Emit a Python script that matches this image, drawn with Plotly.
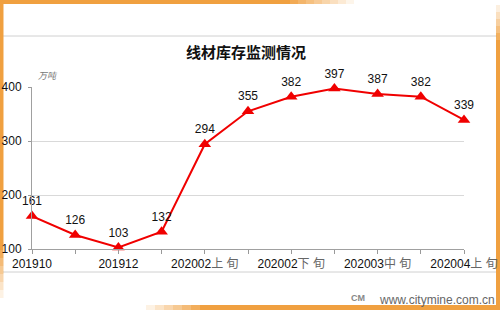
import plotly.graph_objects as go

categories = ["201910", "201911", "201912", "202001", "202002上旬", "202002中旬",
              "202002下旬", "202003上旬", "202003中旬", "202003下旬", "202004上旬"]
values = [161, 126, 103, 132, 294, 355, 382, 397, 387, 382, 339]
tick_text = ["201910", "", "201912", "",
             "202002<span style='color:#666'>上 旬</span>", "",
             "202002<span style='color:#666'>下 旬</span>", "",
             "202003<span style='color:#666'>中 旬</span>", "",
             "202004<span style='color:#666'>上 旬</span>"]
y_ticks = [100, 200, 300, 400]

fig = go.Figure()
fig.add_trace(go.Scatter(
    x=categories, y=values, mode="lines+markers+text",
    line=dict(color="#F00000", width=2),
    marker=dict(symbol="triangle-up", size=11, color="#F00000"),
    text=[str(v) for v in values], textposition="top center",
    textfont=dict(family="Arial, Liberation Sans", size=12, color="#111"),
    cliponaxis=False, hoverinfo="skip",
))

orange = "#F0A040"
W, H = 500, 310
L, R, T, B = 32, 464, 87, 249
def px(x):
    return (x - L) / (R - L)
def py(y):
    return (B - y) / (B - T)

shapes = []
def add(**kw):
    kw.setdefault("layer", "below")
    kw.setdefault("xref", "paper")
    kw.setdefault("yref", "paper")
    shapes.append(kw)

add(type="line", x0=px(3), x1=px(497), y0=py(36), y1=py(36), line=dict(color="#D0D0D0", width=1))
add(type="line", x0=px(3), x1=px(497), y0=py(272), y1=py(272), line=dict(color="#D0D0D0", width=1))
# left border
add(type="rect", x0=px(0), x1=px(3.5), y0=py(0), y1=py(250), fillcolor=orange, line=dict(width=0))
for i in range(6):
    add(type="rect", x0=px(0), x1=px(3.5), y0=py(250 + i*8), y1=py(258 + i*8),
        fillcolor=orange, opacity=1 - (i+1)/7, line=dict(width=0))
# top border
add(type="rect", x0=px(0), x1=px(290), y0=py(0), y1=py(4), fillcolor=orange, line=dict(width=0))
for i in range(8):
    add(type="rect", x0=px(290 + i*8), x1=px(298 + i*8), y0=py(0), y1=py(4),
        fillcolor=orange, opacity=1 - (i+1)/9, line=dict(width=0))
# right border
add(type="rect", x0=px(496), x1=px(500), y0=py(40), y1=py(310), fillcolor=orange, line=dict(width=0))
for i in range(5):
    add(type="rect", x0=px(496), x1=px(500), y0=py(40 - (i+1)*7), y1=py(40 - i*7),
        fillcolor=orange, opacity=1 - (i+1)/6, line=dict(width=0))
# bottom border
add(type="rect", x0=px(200), x1=px(500), y0=py(305), y1=py(310), fillcolor=orange, line=dict(width=0))
for i in range(6):
    add(type="rect", x0=px(200 - (i+1)*9), x1=px(200 - i*9), y0=py(305), y1=py(310),
        fillcolor=orange, opacity=1 - (i+1)/7, line=dict(width=0))

annotations = [
    dict(text="<b>线材库存监测情况</b>", xref="paper", yref="paper", x=px(246), y=py(52),
         showarrow=False, xanchor="center", yanchor="middle",
         font=dict(family="Noto Sans CJK SC", size=15, color="#111")),
    dict(text="<i>万吨</i>", xref="paper", yref="paper", x=px(36), y=py(76),
         showarrow=False, xanchor="left", yanchor="middle",
         font=dict(family="Noto Sans CJK SC", size=9, color="#777")),
    dict(text="www.citymine.com.cn", xref="paper", yref="paper", x=px(497), y=py(300),
         showarrow=False, xanchor="right", yanchor="middle",
         font=dict(family="Arial, Liberation Sans", size=12, color="#666")),
    dict(text="<b>CM</b>", xref="paper", yref="paper", x=px(358), y=py(298),
         showarrow=False, xanchor="center", yanchor="middle",
         font=dict(family="Arial, Liberation Sans", size=9, color="#888")),
]

fig.update_layout(
    width=W, height=H, margin=dict(l=L, r=W - R, t=T, b=H - B, autoexpand=False),
    paper_bgcolor="white", plot_bgcolor="white", showlegend=False,
    shapes=shapes, annotations=annotations,
    font=dict(family="Arial, Liberation Sans", size=12, color="#111"),
)
fig.update_xaxes(type="category", range=[0, 10], tickmode="array",
                 tickvals=categories, ticktext=tick_text, automargin=False,
                 ticks="outside", ticklen=4, tickcolor="#999",
                 showline=True, linecolor="#A0A0A0", linewidth=1,
                 showgrid=False, tickangle=0,
                 tickfont=dict(family="Arial, Noto Sans CJK SC", size=12, color="#111"))
fig.update_yaxes(range=[100, 400], tickvals=y_ticks, ticks="outside", ticklen=3,
                 automargin=False, ticklabelstandoff=4,
                 tickcolor="#999", showline=True, linecolor="#A0A0A0", linewidth=1,
                 showgrid=True, gridcolor="#D9D9D9", gridwidth=1, zeroline=False,
                 tickfont=dict(family="Arial, Liberation Sans", size=12, color="#111"))

fig.write_html("out.html")
